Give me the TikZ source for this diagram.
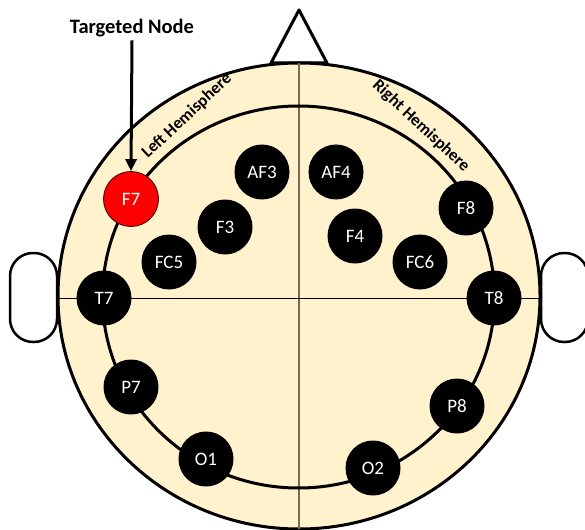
\documentclass[tikz,border=0pt]{standalone}
\usepackage{fontspec}
\setmainfont{Carlito}
\usepackage{xcolor}
\usetikzlibrary{arrows.meta}

\definecolor{piel}{HTML}{FFF2CC}
\definecolor{linea}{HTML}{7A6A55}
\definecolor{rojo}{HTML}{FF0000}

\tikzset{
	electrodo/.style={circle,fill=black,text=white,minimum size=55pt,inner sep=0pt,
		font=\fontsize{19}{19}\selectfont},
	hemisferio/.style={font=\bfseries\fontsize{17}{17}\selectfont},
}

\begin{document}
\begin{tikzpicture}[x=1pt,y=-1pt]
		
		% Ventana
		\useasboundingbox (0,0) rectangle (585,529);
		
		% Nariz y orejas
		\draw[line width=3pt,fill=white,line join=round] (271,63) -- (299,10) -- (327,63) -- cycle;
		\draw[line width=2.5pt,fill=white,rounded corners=23pt] (10,253) rectangle (57,342);
		\draw[line width=2.5pt,fill=white,rounded corners=23pt] (541,253) rectangle (588,342);
		
		% Cabeza
		\draw[line width=3pt,fill=piel] (299,296) ellipse [x radius=241,y radius=233];
		\draw[linea,line width=1.3pt] (299,63) -- (299,529);
		\draw[black,line width=1pt] (58,298) -- (540,298);
		\draw[line width=3pt] (298.5,297) ellipse [x radius=196,y radius=191];
		
		% Etiquetas
		\node[hemisferio,rotate=43] (izq) at (187,116) {Left Hemisphere};
		\node[hemisferio,rotate=-43] (der) at (421,126) {Right Hemisphere};
		
		% Electrodos
		\foreach \n/\x/\y in {AF3/262/172, F3/225/227, FC5/169/262, T7/104/298,
			P7/131/387, O1/206/459, AF4/336/172, F4/355/236, FC6/420/262,
			F8/466/208, T8/494/298, P8/457/406, O2/373/468}{
			\node[electrodo] (\n) at (\x,\y) {\n};
		}
		\node[electrodo,fill=rojo,draw=black!80!red,line width=0.8pt] (F7) at (131,199) {F7};
		
		% Nodo objetivo
		\node[font=\bfseries\fontsize{20.5}{20.5}\selectfont] (objetivo) at (132,28) {Targeted Node};
		\draw[-{Triangle[length=12pt,width=11pt]},line width=3pt] (objetivo.south) -- (F7.north);
		
	\end{tikzpicture}
\end{document}
